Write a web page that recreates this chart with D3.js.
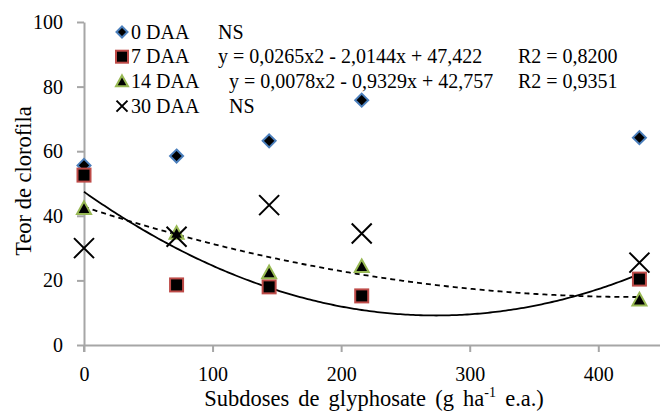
<!DOCTYPE html>
<html>
<head>
<meta charset="utf-8">
<script src="https://cdn.jsdelivr.net/npm/d3@7"></script>
<style>
  body { margin: 0; background: #fff; }
  svg text { font-family: 'Liberation Serif', serif; fill: #000; }
</style>
</head>
<body>
<div id="chart"></div>
<script>
// doses in g ha-1 e.a.
var doses = [0, 72, 144, 216, 432];
var daa0  = [55.6, 58.5, 63.2, 75.8, 64.2];
var daa7  = [52.6, 18.6, 18.0, 15.2, 20.4];
var daa14 = [42.3, 34.6, 22.4, 24.3, 14.0];
var daa30 = [30.0, 33.5, 43.3, 34.5, 25.5];

// regression coefficients (x in % of 720 g ha-1)
var fit7  = [0.0265, -2.0144, 47.422];
var fit14 = [0.0078, -0.9329, 42.757];

var yTicks = [0, 20, 40, 60, 80, 100];
var xTicks = [0, 100, 200, 300, 400];

var legendRows = [
  { name: "0 DAA",  eq: "NS", r2: "", eqX: 218 },
  { name: "7 DAA",  eq: "y = 0,0265x2 - 2,0144x + 47,422", r2: "R2 = 0,8200", eqX: 218 },
  { name: "14 DAA", eq: "y = 0,0078x2 - 0,9329x + 42,757", r2: "R2 = 0,9351", eqX: 229 },
  { name: "30 DAA", eq: "NS", r2: "", eqX: 229 }
];

const width = 660, height = 416;
const serif = "'Liberation Serif', serif";

var svg = d3.select("#chart").append("svg")
  .attr("width", width)
  .attr("height", height);

var x = d3.scaleLinear().domain([0, 448]).range([84, 660]);
var y = d3.scaleLinear().domain([0, 100]).range([345, 22]);

// axes
var yAxis = svg.append("g")
  .attr("transform", "translate(84,0)")
  .call(d3.axisLeft(y).tickValues(yTicks).tickSize(7).tickPadding(14).tickSizeOuter(0));

var xAxis = svg.append("g")
  .attr("transform", "translate(0,345)")
  .call(d3.axisBottom(x).tickValues(xTicks).tickSize(7).tickPadding(15).tickSizeOuter(0));

[yAxis, xAxis].forEach(function (g) {
  g.attr("font-family", serif).attr("font-size", 20);
  g.select(".domain").attr("stroke", "#a6a6a6").attr("stroke-width", 2);
  g.selectAll(".tick line").attr("stroke", "#a6a6a6").attr("stroke-width", 2);
  g.selectAll(".tick text").attr("fill", "#000");
});
// y axis line continues a bit below zero
yAxis.append("line")
  .attr("x1", 0).attr("x2", 0)
  .attr("y1", y(0)).attr("y2", y(0) + 7)
  .attr("stroke", "#a6a6a6").attr("stroke-width", 2);

// axis titles
svg.append("text")
  .attr("transform", "translate(31,181) rotate(-90)")
  .attr("text-anchor", "middle")
  .attr("font-family", serif)
  .attr("font-size", 22.5)
  .text("Teor de clorofila");

var xt = svg.append("text")
  .attr("x", 374)
  .attr("y", 406)
  .attr("text-anchor", "middle")
  .attr("font-family", serif)
  .attr("font-size", 22.5)
  .style("word-spacing", "3.5px");
xt.append("tspan").text("Subdoses de glyphosate (g ha");
xt.append("tspan").attr("dy", -9).attr("font-size", 14).text("-1");
xt.append("tspan").attr("dy", 9).text(" e.a.)");

// trend lines
function quad(c) {
  var xs = d3.range(0, 432.1, 2);
  return xs.map(function (d) {
    var p = d / 7.2;
    return [d, c[0] * p * p + c[1] * p + c[2]];
  });
}
var line = d3.line().x(d => x(d[0])).y(d => y(d[1]));

svg.append("path")
  .attr("d", line(quad(fit7)))
  .attr("fill", "none")
  .attr("stroke", "#000")
  .attr("stroke-width", 1.8);

svg.append("path")
  .attr("d", line(quad(fit14)))
  .attr("fill", "none")
  .attr("stroke", "#000")
  .attr("stroke-width", 1.8)
  .attr("stroke-dasharray", "5,4");

// marker shapes
function diamond(g, cx, cy, s) {
  g.append("path")
    .attr("d", `M${cx},${cy - s}L${cx + s},${cy}L${cx},${cy + s}L${cx - s},${cy}Z`)
    .attr("fill", "#000").attr("stroke", "#4a7ebb").attr("stroke-width", 2);
}
function square(g, cx, cy, s) {
  g.append("rect")
    .attr("x", cx - s).attr("y", cy - s)
    .attr("width", 2 * s).attr("height", 2 * s)
    .attr("fill", "#000").attr("stroke", "#be4b48").attr("stroke-width", 2);
}
function triangle(g, cx, cy, s) {
  g.append("path")
    .attr("d", `M${cx},${cy - s}L${cx + s},${cy + s * 0.8}L${cx - s},${cy + s * 0.8}Z`)
    .attr("fill", "#000").attr("stroke", "#98b954").attr("stroke-width", 2);
}
function cross(g, cx, cy, s) {
  g.append("path")
    .attr("d", `M${cx - s},${cy - s}L${cx + s},${cy + s}M${cx - s},${cy + s}L${cx + s},${cy - s}`)
    .attr("fill", "none").attr("stroke", "#000").attr("stroke-width", 2);
}

var series = [
  { vals: daa0, draw: diamond, size: 6.5 },
  { vals: daa7, draw: square, size: 6.5 },
  { vals: daa14, draw: triangle, size: 7 },
  { vals: daa30, draw: cross, size: 10 }
];

var pts = svg.append("g");
series.forEach(function (s) {
  s.vals.forEach(function (v, i) {
    s.draw(pts, x(doses[i]), y(v), s.size);
  });
});

// legend
var legend = svg.append("g")
  .attr("font-family", serif)
  .attr("font-size", 20);
var legendSize = [5.5, 6, 6, 5.5];
legendRows.forEach(function (r, i) {
  var cy = 32 + i * 24.7;
  series[i].draw(legend, 122, cy, legendSize[i]);
  legend.append("text").attr("x", 131).attr("y", cy + 6.5).text(r.name);
  legend.append("text").attr("x", r.eqX).attr("y", cy + 6.5).text(r.eq);
  if (r.r2) {
    legend.append("text").attr("x", 518).attr("y", cy + 6.5).text(r.r2);
  }
});
</script>
</body>
</html>
